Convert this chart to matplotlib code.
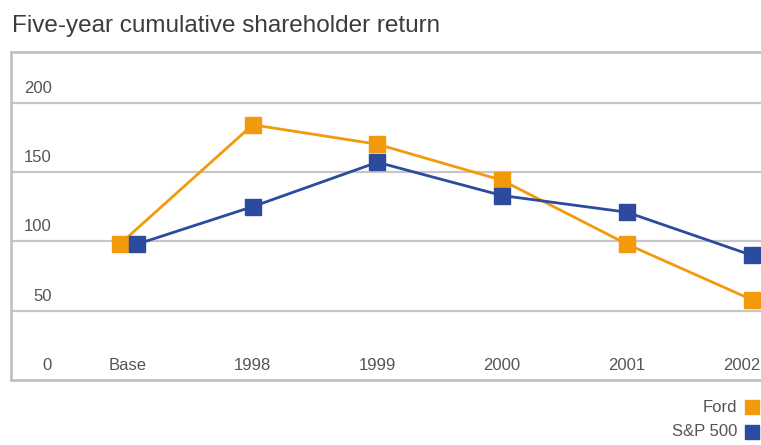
import matplotlib.pyplot as plt
from matplotlib import font_manager

years = ["Base", "1998", "1999", "2000", "2001", "2002"]
ford = [98, 184, 170, 144, 98, 58]
sp500 = [98, 125, 157, 133, 121, 90]
y_ticks = [0, 50, 100, 150, 200]

ORANGE = "#F39A0C"
BLUE = "#2C4A9E"
TEXT = "#555555"
GRID = "#c6c6c6"

names = {f.name for f in font_manager.fontManager.ttflist}
FONT = "Liberation Sans Narrow" if "Liberation Sans Narrow" in names else "Liberation Sans"

fig = plt.figure(figsize=(7.61, 4.45), dpi=100)
ax = fig.add_axes([11 / 761, 65 / 445, 750 / 761, 328 / 445])

# x positions, with the two Base markers nudged apart
xs = list(range(len(years)))
ford_x = [x - 0.065 if i == 0 else x for i, x in enumerate(xs)]
sp_x = [x + 0.075 if i == 0 else x for i, x in enumerate(xs)]

for v in y_ticks[1:]:
    ax.axhline(v, color=GRID, lw=1.6, zorder=1)

ax.plot(ford_x, ford, color=ORANGE, lw=2, marker="s", ms=11,
        mec=ORANGE, zorder=3, clip_on=False)
ax.plot(sp_x, sp500, color=BLUE, lw=2, marker="s", ms=11,
        mec=BLUE, zorder=3, clip_on=False)

ax.set_xlim(-0.938, 5.076)
ax.set_ylim(0, 236.5)
ax.set_xticks([])
ax.set_yticks([])

for v in y_ticks:
    ax.text(-0.61, v + 5, str(v), ha="right", va="bottom", color=TEXT,
            fontsize=12, family=FONT)
for x, lab in zip(xs, years):
    if x == xs[-1]:
        # last label sits against the right edge so it stays readable
        ax.text(5.07, 5, lab, ha="right", va="bottom", color=TEXT,
                fontsize=12, family=FONT)
    else:
        ax.text(x, 5, lab, ha="center", va="bottom", color=TEXT,
                fontsize=12, family=FONT)

for side in ["left", "top", "bottom"]:
    ax.spines[side].set_color("#bdbdbd")
    ax.spines[side].set_linewidth(1.8)
ax.spines["right"].set_visible(False)

fig.text(12 / 761, 1 - 26 / 445, "Five-year cumulative shareholder return",
         ha="left", va="center", color="#3c3c3c", fontsize=17.5, family=FONT)

# legend
fig.text(737 / 761, 1 - 407 / 445, "Ford", ha="right", va="center",
         color=TEXT, fontsize=12, family=FONT)
fig.text(737 / 761, 1 - 432 / 445, "S&P 500", ha="right", va="center",
         color=TEXT, fontsize=12, family=FONT)
fig.patches.append(plt.Rectangle((745 / 761, 1 - 414 / 445), 14 / 761, 14 / 445,
                                 transform=fig.transFigure, color=ORANGE))
fig.patches.append(plt.Rectangle((745 / 761, 1 - 439 / 445), 14 / 761, 14 / 445,
                                 transform=fig.transFigure, color=BLUE))

fig.savefig("out.png", dpi=100)
